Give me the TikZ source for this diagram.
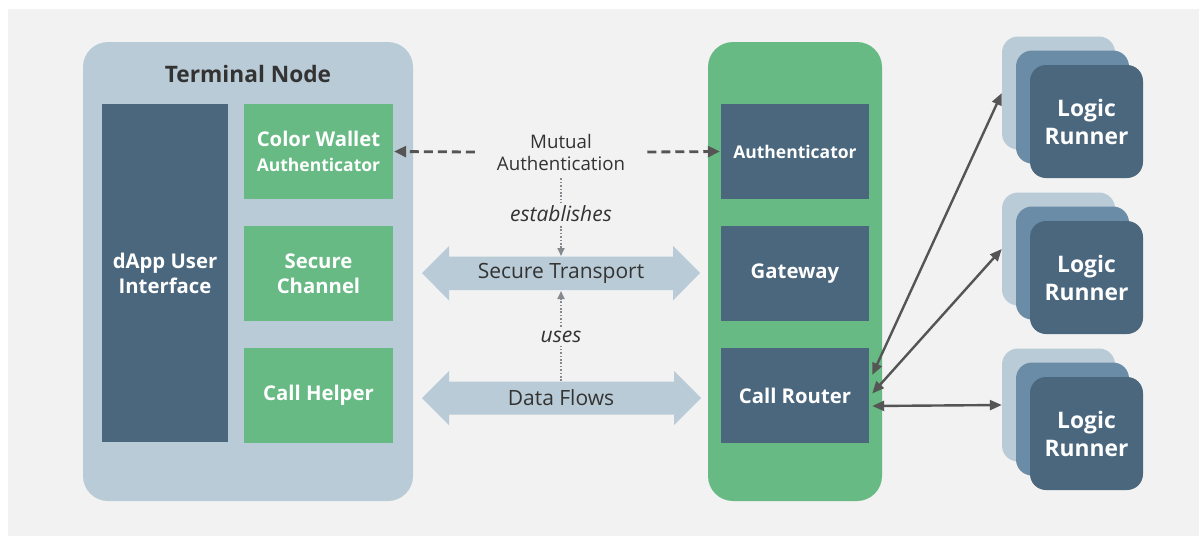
\documentclass[tikz,border=0pt]{standalone}
\usepackage{fontspec}
\setmainfont{Open Sans}
\usetikzlibrary{arrows.meta}
\definecolor{bggray}{HTML}{F2F2F2}
\definecolor{termbg}{HTML}{B9CBD6}
\definecolor{darkblue}{HTML}{4A677E}
\definecolor{midblue}{HTML}{6A8CA7}
\definecolor{green}{HTML}{67BA84}
\definecolor{txt}{HTML}{333333}
\definecolor{arr}{HTML}{555555}
\definecolor{dotc}{HTML}{858A90}
\tikzset{
  box/.style={draw=none, inner sep=0pt, align=center, text=white,
    font=\fontsize{20.3}{25}\selectfont\bfseries},
  darkbox/.style={box, fill=darkblue},
  greenbox/.style={box, fill=green},
  container/.style={draw=none, rounded corners=25pt, inner sep=0pt},
  runner/.style={draw=none, rounded corners=16pt, inner sep=0pt,
    minimum width=113pt, minimum height=113pt, align=center, text=white,
    font=\fontsize{22.8}{28}\selectfont\bfseries},
  lbl/.style={text=txt, align=center, inner sep=2pt,
    font=\fontsize{21}{22}\selectfont},
  itl/.style={text=txt, fill=bggray, inner sep=3pt,
    font=\fontsize{21}{22}\selectfont\itshape},
  conn/.style={draw=arr, line width=2.4pt,
    {Triangle[length=12pt,width=10pt]}-{Triangle[length=12pt,width=10pt]}},
  dashconn/.style={draw=arr, line width=2.8pt, dash pattern=on 9pt off 5pt,
    -{Triangle[length=12pt,width=11pt]}},
  dotconn/.style={draw=dotc, line width=1.8pt, dash pattern=on 1.6pt off 1.8pt,
    -{Triangle[length=8pt,width=7pt]}},
  bigarrow/.style={fill=termbg, draw=none}
}
\begin{document}
\begin{tikzpicture}[x=1pt,y=-1pt]
\useasboundingbox (0,0) rectangle (1199,536);
\fill[white] (0,0) rectangle (1199,536);
\fill[bggray] (8,9) rectangle (1199,536);

% Terminal node container
\node[container, fill=termbg, minimum width=330pt, minimum height=459pt] (term) at (248,271.5) {};
\node[text=txt, font=\fontsize{22.7}{28}\selectfont\bfseries] (termtitle) at (248,74) {Terminal Node};
\node[darkbox, minimum width=126pt, minimum height=338pt] (dapp) at (165,273) {dApp User\\Interface};
\node[greenbox, minimum width=149pt, minimum height=95pt] (cwa) at (318.5,151.5) {Color Wallet\\{\fontsize{17.5}{22}\selectfont Authenticator}};
\node[greenbox, minimum width=149pt, minimum height=95pt] (sch) at (318.5,273.5) {Secure\\Channel};
\node[greenbox, minimum width=149pt, minimum height=95pt] (chp) at (318.5,395.5) {Call Helper};

% Green container
\node[container, fill=green, minimum width=174pt, minimum height=459pt] (gw) at (795,271.5) {};
\node[darkbox, minimum width=148pt, minimum height=95pt] (auth) at (795,151.5) {{\fontsize{17.5}{22}\selectfont Authenticator}};
\node[darkbox, minimum width=148pt, minimum height=95pt] (gate) at (795,273.5) {Gateway};
\node[darkbox, minimum width=148pt, minimum height=95pt] (router) at (795,395.5) {Call Router};

% Logic runners
\foreach \n/\y in {1/121.5, 2/277.5, 3/433.5}{
  \node[runner, fill=termbg] (r\n b) at (1058.5,\y-28.5) {};
  \node[runner, fill=midblue] (r\n m) at (1072.5,\y-14.5) {};
  \node[runner, fill=darkblue] (r\n) at (1086.5,\y) {Logic\\Runner};
}

% Middle: Mutual authentication
\node[lbl, font=\fontsize{18.7}{22}\selectfont] (ma) at (561,152) {Mutual\\Authentication};
\draw[dashconn] ([xshift=-20pt]ma.west) -- ([xshift=1pt]cwa.east);
\draw[dashconn] ([xshift=20pt]ma.east) -- ([xshift=-1pt]auth.west);

% Big double arrows
\fill[bigarrow] (422,273) -- (449,246) -- (449,256.5) -- (673,256.5) -- (673,246) -- (700,273)
  -- (673,300.5) -- (673,290) -- (449,290) -- (449,300.5) -- cycle;
\node[lbl] (st) at (561,273) {Secure Transport};
\fill[bigarrow] (422,398) -- (449,371) -- (449,381.5) -- (674,381.5) -- (674,371) -- (701,398)
  -- (674,425) -- (674,414.5) -- (449,414.5) -- (449,425) -- cycle;
\node[lbl] (df) at (561,398) {Data Flows};

\coordinate (stTop) at (561,256);
\coordinate (stBot) at (561,291);
\coordinate (dfTop) at (561,381);

\draw[dotconn] ([yshift=-6pt]ma.south) -- (stTop);
\node[itl] (est) at (561,214) {establishes};
\draw[dotconn] (dfTop) -- (stBot);
\node[itl] (uses) at (561,337) {uses};

% Router connections
\draw[conn] ([shift={(3,-20.5)}]router.east) -- (r1b.west);
\draw[conn] ([shift={(3,-2)}]router.east) -- (r2b.west);
\draw[conn] ([shift={(3,10.5)}]router.east) -- (r3b.west);
\end{tikzpicture}
\end{document}
